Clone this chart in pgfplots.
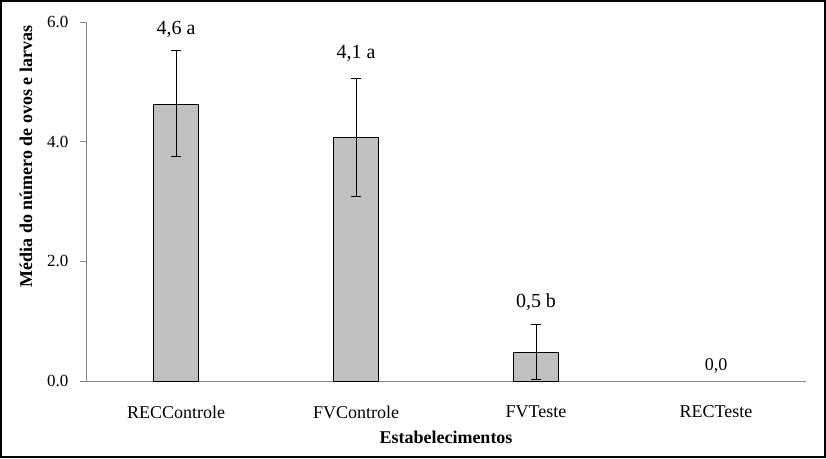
\documentclass[border=0pt]{standalone}
\usepackage{pgfplots}
\pgfplotsset{compat=1.18}
\usepackage{fontspec}
\setmainfont{Liberation Serif}
\definecolor{barfill}{HTML}{C0C0C0}
\definecolor{axgray}{HTML}{868686}
\begin{document}
\begin{tikzpicture}
\begin{axis}[
  at={(0pt,0pt)}, anchor=south west,
  scale only axis, width=720pt, height=359pt,
  xmin=-0.5, xmax=3.5, ymin=0, ymax=6,
  axis x line*=bottom, axis y line*=left,
  axis line style={axgray, line width=0.8pt},
  xtick={0,1,2,3},
  xticklabels={RECControle,FVControle,FVTeste,RECTeste},
  x tick style={draw=none},
  ytick={0,2,4,6},
  y tick style={axgray, line width=0.8pt},
  tick align=outside, major tick length=6pt,
  /pgf/number format/assume math mode=true,
  yticklabel={\pgfmathprintnumber[fixed,fixed zerofill,precision=1]{\tick}},
  yticklabel style={font=\fontsize{17}{19}\selectfont, xshift=-8pt},
  xticklabel style={font=\fontsize{18}{20}\selectfont, anchor=center, yshift=-25pt},
  xlabel={\textbf{Estabelecimentos}},
  ylabel={\textbf{Média do número de ovos e larvas}},
  label style={font=\fontsize{18}{20}\selectfont},
  xlabel style={at={(axis description cs:0.5,-0.156)}, anchor=center},
  ylabel style={at={(axis description cs:-0.0833,0.625)}, anchor=center},
  clip=false,
]
\addplot[ybar, bar width=45pt, fill=barfill, draw=black, line width=0.8pt,
  error bars/.cd, y dir=both, y explicit,
  error bar style={black, line width=0.8pt},
  error mark options={rotate=90, mark size=5pt, black, line width=0.8pt}]
  table[x=x, y=y, y error plus=ep, y error minus=em] {
x y ep em
0 4.62 0.90 0.87
1 4.07 0.99 0.98
2 0.48 0.46 0.45
};
\node[font=\fontsize{20}{22}\selectfont] at (axis cs:0,5.87) {4,6 a};
\node[font=\fontsize{20}{22}\selectfont] at (axis cs:1,5.47) {4,1 a};
\node[font=\fontsize{20}{22}\selectfont] at (axis cs:2,1.32) {0,5 b};
\node[font=\fontsize{18}{20}\selectfont] at (axis cs:3,0.25) {0,0};
\end{axis}
\draw[line width=2pt] (-85pt,-76pt) rectangle (739pt,380pt);
\end{tikzpicture}
\end{document}
